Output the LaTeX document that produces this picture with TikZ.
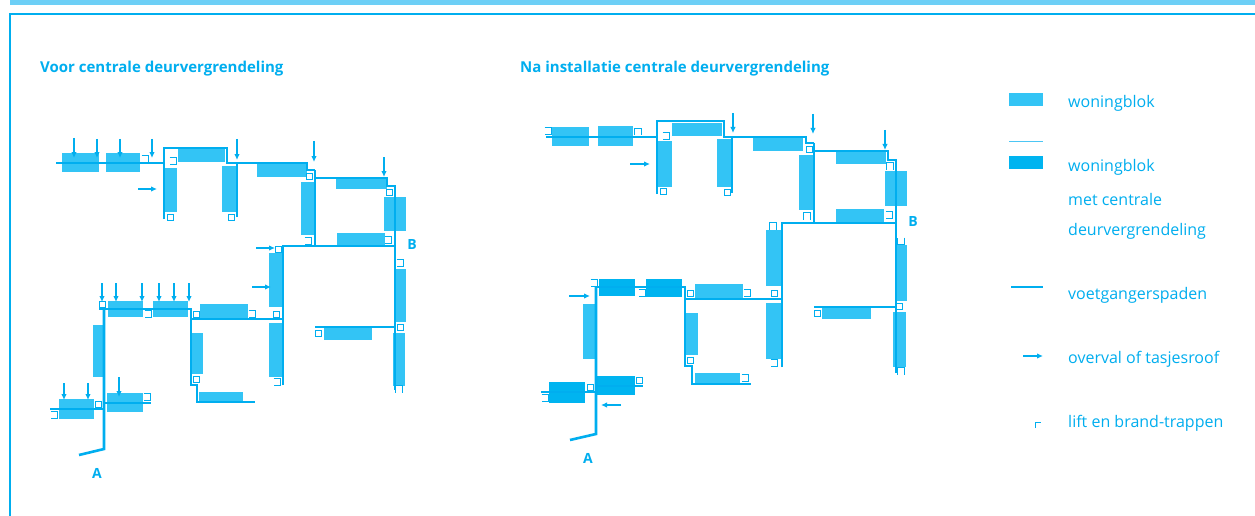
\documentclass[tikz,border=0pt]{standalone}
\usepackage{fontspec}
\setmainfont{Open Sans}
\usetikzlibrary{arrows.meta}
\definecolor{planblue}{HTML}{00AEEF}
\definecolor{blocklight}{HTML}{33C4F5}
\definecolor{blockdark}{HTML}{00B4F0}
\definecolor{bandblue}{HTML}{6DCFF6}
\tikzset{
  x=1pt,y=-1pt,
  block/.style={fill=blocklight},
  lockblock/.style={fill=blockdark},
  footpath/.style={draw=planblue,line width=2.6pt,line join=miter},
  theftarrow/.style={draw=planblue,line width=1.2pt,-{Latex[length=6pt,width=5.5pt]}},
  lift/.pic={\fill[white] (-3.5,-3.5) rectangle (3.5,3.5);
    \draw[planblue,line width=1pt] (-3.5,-3.5) -- (3.5,-3.5) -- (3.5,3.5) -- (-3.5,3.5);},
  liftbox/.pic={\draw[planblue,fill=white,line width=1pt] (-3,-3) rectangle (3,3);},
  title/.style={text=planblue,anchor=west,font=\bfseries\fontsize{15}{17}\selectfont,inner sep=0pt},
  legend/.style={text=planblue,anchor=west,font=\fontsize{16}{18}\selectfont,inner sep=0pt},
  mapletter/.style={text=planblue,font=\bfseries\fontsize{14}{16}\selectfont,inner sep=0pt}
}
\begin{document}
\begin{tikzpicture}
\useasboundingbox (0,0) rectangle (1255,516);
\fill [white] (0,0) rectangle (1255,516);
% band and frame
\fill [bandblue] (10,0) rectangle (1255,5);
\fill [planblue] (9,13.5) rectangle (1255,15);
\fill [planblue] (9,13.5) rectangle (11,516);
\node [title] (titleleft) at (40,68.5) {Voor centrale deurvergrendeling};
\node [title] (titleright) at (520,68.5) {Na installatie centrale deurvergrendeling};

% left plan
\foreach \xa/\ya/\xb/\yb in {62/153/99/172,106/153/140/172,178/149/225/162,164/168/177/212,
  222/166/237/212,257/163/307/177,301/182/315/235,336/178/387/189,384/197/406/231,
  337/233/385/246,269/253/284/307,395/269/406/322,108/301/143/317,153/301/188/317,
  200/304/248/319,269/323/284/377,191/333/203/374,199/392/243/402,324/328/372/340,
  393/333/405/386,93/325/104/377,59/399/94/419,107/393/143/412}
  \fill [block] (\xa,\ya) rectangle (\xb,\yb);
\draw [footpath] (56,163) -- (164,163);
\draw [footpath] (164,219) -- (164,148) -- (227,148) -- (227,163) -- (307,163) -- (307,170) -- (315,170);
\draw [footpath] (237,163) -- (237,217);
\draw [footpath] (315,170) -- (315,246);
\draw [footpath] (315,178) -- (387,178) -- (387,186) -- (395,186) -- (395,390);
\draw [footpath] (283,385) -- (283,246) -- (395,246);
\draw [footpath] (315,327) -- (395,327);
\draw [footpath] (99,309) -- (191,309) -- (191,385) -- (197,385) -- (197,402) -- (255,402);
\draw [footpath] (191,319) -- (283,319);
\draw [footpath] (104,309) -- (104,449) -- (79,455);
\draw [footpath,line width=1.6pt] (50,409) -- (104,409);
\draw [footpath] (104,403) -- (151,403);
\foreach \xa/\ya/\xb/\yb in {74/138/74/158,97/139/97/158,120/139/120/158,152/139/152/158,
  237/139/237/160,314/141/314/162,384/157/384/177,138/189/157/189,256/248/275/248,
  252/287/271/287,102/283/102/302,116/283/116/302,142/283/142/302,159/283/159/302,
  174/283/174/302,189/283/189/302,64/383/64/400,88/383/88/400,119/377/119/397}
  \draw [theftarrow] (\xa,\ya) -- (\xb,\yb);
\foreach \x/\y in {173/161,145/159,308/241,400/263,148/314,147/397,252/314,388/240,277/382,54/415}
  \pic at (\x,\y) {lift};
\foreach \x/\y in {170/217,231/217,309/176,389/192,278/249,196/314,276/314,400/327,196/379,98/404,102/304,318/333}
  \pic at (\x,\y) {liftbox};
\pic [rotate=90] at (399,389) {lift};
\node [mapletter] (leftA) at (97,473) {A};
\node [mapletter] (leftB) at (412,245) {B};

% right plan
\foreach \xa/\ya/\xb/\yb in {552/127/589/146,598/126/633/146,672/123/722/136,658/141/672/187,
  717/139/732/187,753/138/803/151,799/155/814/210,836/152/886/164,885/171/907/206,
  836/209/884/223,766/230/782/286,895/245/907/301,695/284/743/298,766/303/782/359,
  685/313/698/355,695/373/740/383,822/308/871/319,893/312/906/367,583/304/596/359}
  \fill [block] (\xa,\ya) rectangle (\xb,\yb);
\foreach \xa/\ya/\xb/\yb in {599/279/635/296,646/279/682/297,549/382/585/403,597/376/635/395}
  \fill [lockblock] (\xa,\ya) rectangle (\xb,\yb);
\draw [footpath] (546,137) -- (657,137);
\draw [footpath] (657,194) -- (657,121) -- (724,121) -- (724,137) -- (806,137) -- (806,143) -- (814,143);
\draw [footpath] (732,137) -- (732,193);
\draw [footpath] (814,143) -- (814,223);
\draw [footpath] (814,151) -- (888,151) -- (888,160) -- (896,160) -- (896,373);
\draw [footpath] (782,367) -- (782,223) -- (896,223);
\draw [footpath] (814,307) -- (896,307);
\draw [footpath] (596,287) -- (685,287) -- (685,366) -- (692,366) -- (692,384) -- (751,384);
\draw [footpath] (685,299) -- (782,299);
\draw [footpath] (596,287) -- (596,434) -- (570,440);
\draw [footpath] (541,392) -- (596,392);
\draw [footpath] (596,386) -- (643,386);
\foreach \xa/\ya/\xb/\yb in {733/113/733/133,813/114/813/134,885/130/885/150,630/164/650/164,
  569/296/590/296,621/405/601/405}
  \draw [theftarrow] (\xa,\ya) -- (\xb,\yb);
\foreach \x/\y in {548/131,666/136,594/283,642/293,747/293,745/378,545/398}
  \pic at (\x,\y) {lift};
\foreach \x/\y in {663/191,727/192,809/149,690/293,774/293,817/313,899/306,690/360,590/387,639/380}
  \pic at (\x,\y) {liftbox};
\foreach \x/\y in {638/132,890/166,807/216,773/226,901/371}
  \pic [rotate=90] at (\x,\y) {lift};
\pic [rotate=-90] at (901,241) {lift};
\pic at (889,215) {lift};
\pic at (774,363) {lift};
\node [mapletter] (rightA) at (588,458) {A};
\node [mapletter] (rightB) at (913,222) {B};

% legend
\fill [block] (1009,93) rectangle (1043,106);
\draw [draw=planblue!70,line width=0.4pt] (1009,141) -- (1043,141);
\fill [lockblock] (1009,156) rectangle (1043,169);
\draw [footpath] (1011,287) -- (1043,287);
\draw [theftarrow] (1023,356) -- (1043,356);
\draw [draw=planblue,line width=1pt] (1035.5,428) -- (1035.5,422.5) -- (1041,422.5);
\node [legend] (legblock) at (1068,103.5) {woningblok};
\node [legend] (leglock) at (1068,167.5) {woningblok};
\node [legend] (leglocka) at (1068,199.5) {met centrale};
\node [legend] (leglockb) at (1068,231.5) {deurvergrendeling};
\node [legend] (legpath) at (1068,295.5) {voetgangerspaden};
\node [legend] (legtheft) at (1068,359.5) {overval of tasjesroof};
\node [legend] (leglift) at (1068,423.5) {lift en brand-trappen};
\end{tikzpicture}
\end{document}
